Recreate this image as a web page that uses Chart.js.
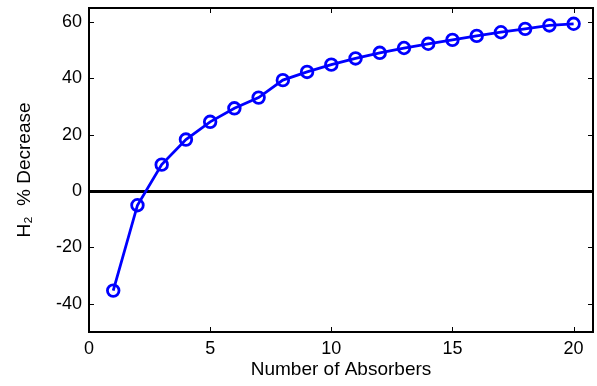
<!DOCTYPE html>
<html>
<head>
<meta charset="utf-8">
<script src="https://cdn.jsdelivr.net/npm/chart.js@4.4.1/dist/chart.umd.min.js"></script>
<style>
  html, body { margin: 0; padding: 0; background: #fff; }
  #wrap { width: 597px; height: 386px; }
</style>
</head>
<body>
<div id="wrap"><canvas id="absorberChart" width="597" height="386"></canvas></div>
<script>
const ABSORBERS = [1, 2, 3, 4, 5, 6, 7, 8, 9, 10, 11, 12, 13, 14, 15, 16, 17, 18, 19, 20];
const H2_DECREASE = [-35.3, -5, 9.4, 18.3, 24.6, 29.4, 33.2, 39.4, 42.3, 44.9, 47.1, 49.1, 50.8, 52.3, 53.7, 55.1, 56.4, 57.6, 58.8, 59.4];
const X_TICKS = [0, 5, 10, 15, 20];
const Y_TICKS = [-40, -20, 0, 20, 40, 60];

const FONT = "Arial, 'Liberation Sans', sans-serif";

// matlab style box with inward ticks
const boxPlugin = {
    id: "boxPlugin",
    afterDraw(chart) {
        const ctx = chart.ctx;
        const area = chart.chartArea;
        const x = chart.scales.x;
        const y = chart.scales.y;
        const len = 5;
        ctx.save();
        ctx.strokeStyle = "#000";
        ctx.lineWidth = 1;
        ctx.beginPath();
        X_TICKS.forEach(function (v) {
            const px = Math.round(x.getPixelForValue(v)) + 0.5;
            ctx.moveTo(px, area.bottom);
            ctx.lineTo(px, area.bottom - len);
            ctx.moveTo(px, area.top);
            ctx.lineTo(px, area.top + len);
        });
        Y_TICKS.forEach(function (v) {
            const py = Math.round(y.getPixelForValue(v)) + 0.5;
            ctx.moveTo(area.left, py);
            ctx.lineTo(area.left + len, py);
            ctx.moveTo(area.right, py);
            ctx.lineTo(area.right - len, py);
        });
        ctx.stroke();
        ctx.lineWidth = 2;
        ctx.strokeRect(area.left, area.top, area.right - area.left, area.bottom - area.top);
        ctx.restore();
    }
};

function setTicks(list) {
    return function (scale) {
        scale.ticks = list.map(function (v) { return { value: v }; });
    };
}

const ctx = document.getElementById("absorberChart").getContext("2d");
const absorberChart = new Chart(ctx, {
    type: "line",
    data: {
        labels: ABSORBERS,
        datasets: [{
            label: "H2 % Decrease",
            data: ABSORBERS.map(function (n, i) { return { x: n, y: H2_DECREASE[i] }; }),
            borderColor: "#0000ff",
            backgroundColor: "rgba(0,0,0,0)",
            borderWidth: 2.8,
            pointRadius: 5.8,
            pointBorderWidth: 2.8,
            pointBorderColor: "#0000ff",
            pointBackgroundColor: "rgba(0,0,0,0)",
            tension: 0
        }]
    },
    options: {
        responsive: false,
        animation: false,
        layout: { autoPadding: false, padding: { top: 8, right: 4, left: 0, bottom: 0 } },
        plugins: {
            legend: { display: false },
            tooltip: { enabled: false }
        },
        scales: {
            x: {
                type: "linear",
                min: 0,
                max: 20.8,
                afterBuildTicks: setTicks(X_TICKS),
                afterFit: function (scale) {
                    scale.height = 54;
                    scale.paddingLeft = 0;
                    scale.paddingRight = 0;
                },
                grid: { display: false, drawTicks: false },
                border: { display: false },
                ticks: {
                    color: "#000",
                    padding: 6,
                    maxRotation: 0,
                    font: { family: FONT, size: 18 }
                },
                title: {
                    display: true,
                    text: "Number of Absorbers",
                    color: "#000",
                    padding: { top: 0, bottom: 5 },
                    font: { family: FONT, size: 19 }
                }
            },
            y: {
                type: "linear",
                min: -50,
                max: 65,
                afterBuildTicks: setTicks(Y_TICKS),
                afterFit: function (scale) {
                    scale.width = 89;
                    scale.paddingTop = 0;
                    scale.paddingBottom = 0;
                },
                grid: {
                    drawTicks: false,
                    color: function (c) { return c.tick && c.tick.value === 0 ? "#000" : "rgba(0,0,0,0)"; },
                    lineWidth: function (c) { return c.tick && c.tick.value === 0 ? 3 : 0; }
                },
                border: { display: false },
                ticks: {
                    color: "#000",
                    padding: 7,
                    font: { family: FONT, size: 18 }
                },
                title: {
                    display: true,
                    text: "H₂  % Decrease",
                    color: "#000",
                    padding: { top: 13, bottom: 0 },
                    font: { family: FONT, size: 19 }
                }
            }
        }
    },
    plugins: [boxPlugin]
});
</script>
</body>
</html>
